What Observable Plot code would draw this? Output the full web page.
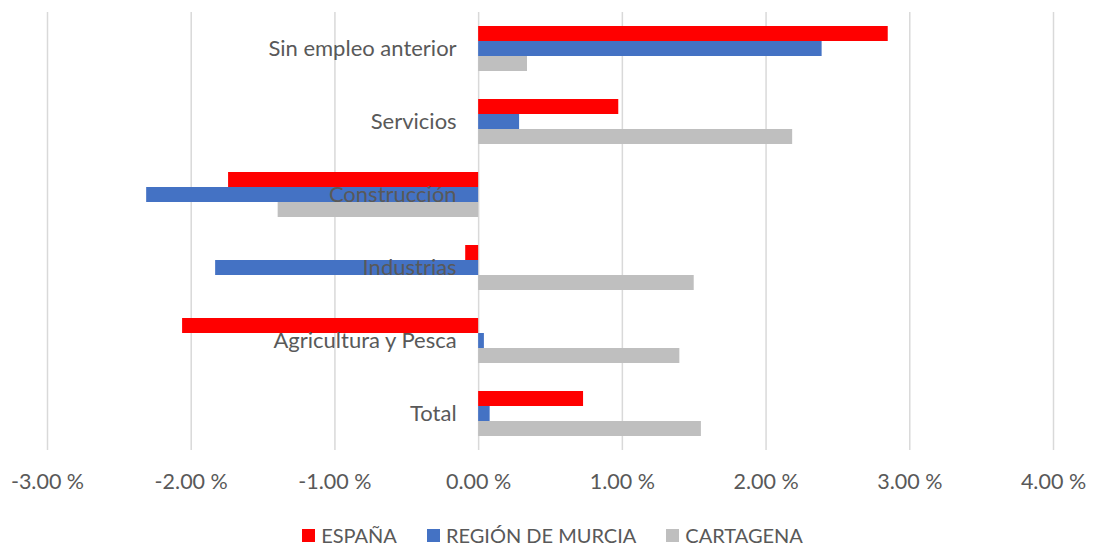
<!DOCTYPE html>
<html>
<head>
<meta charset="utf-8">
<script src="https://cdn.jsdelivr.net/npm/d3@7"></script>
<script src="https://cdn.jsdelivr.net/npm/@observablehq/plot@0.6"></script>
<style>
  body { margin: 0; background: #fff; font-family: Lato, "Open Sans", sans-serif; }
  #legend { display: flex; justify-content: center; align-items: center; gap: 30px; padding-top: 14px;
    font-size: 20px; color: #595959; line-height: 22px; padding-left: 12px; }
  #legend span.item { display: flex; align-items: center; gap: 6px; }
  #legend i { display: inline-block; width: 13px; height: 13px; }
</style>
</head>
<body>
<div id="chart"></div>
<div id="legend"></div>
<script>
const categories = ["Sin empleo anterior", "Servicios", "Construcción", "Industrias", "Agricultura y Pesca", "Total"];
const series = ["ESPAÑA", "REGIÓN DE MURCIA", "CARTAGENA"];
const colors = ["#FF0000", "#4472C4", "#BFBFBF"];
const espana    = [2.85, 0.975, -1.74, -0.09, -2.06, 0.73];
const murcia    = [2.39, 0.285, -2.31, -1.83, 0.04, 0.08];
const cartagena = [0.34, 2.185, -1.395, 1.50, 1.40, 1.55];
const xTicks = [-3, -2, -1, 0, 1, 2, 3, 4];

const valuesBySeries = [espana, murcia, cartagena];
const data = [];
categories.forEach((c, i) => series.forEach((s, j) => data.push({category: c, series: s, value: valuesBySeries[j][i]})));

const chart = Plot.plot({
  width: 1093,
  height: 510,
  marginTop: 10,
  marginBottom: 58,
  marginLeft: 47,
  marginRight: 40,
  style: {fontFamily: "Lato, 'Open Sans', sans-serif", background: "#fff"},
  x: {domain: [-3, 4], ticks: xTicks, tickFormat: d => d.toFixed(2) + " %", label: null},
  y: {domain: series, axis: null, paddingInner: 0, paddingOuter: 0.9},
  fy: {domain: categories, axis: null, padding: 0},
  color: {domain: series, range: colors},
  marks: [
    Plot.ruleX(xTicks, {x: d => d, stroke: "#D9D9D9", strokeWidth: 1.5}),
    Plot.barX(data, {fy: "category", y: "series", x: "value", fill: "series"}),
    Plot.text(categories, {fy: d => d, y: () => "REGIÓN DE MURCIA", x: () => 0, text: d => d, textAnchor: "end", dx: -22, fill: "#595959", fontSize: 22}),
    Plot.axisX({ticks: xTicks, tickFormat: d => d.toFixed(2) + " %", tickSize: 0, tickPadding: 23, fontSize: 21.5, color: "#595959", label: null, anchor: "bottom"})
  ]
});
document.getElementById("chart").appendChild(chart);

const legend = document.getElementById("legend");
series.forEach((s, j) => {
  const item = document.createElement("span");
  item.className = "item";
  item.innerHTML = `<i style="background:${colors[j]}"></i>${s}`;
  legend.appendChild(item);
});
</script>
</body>
</html>
